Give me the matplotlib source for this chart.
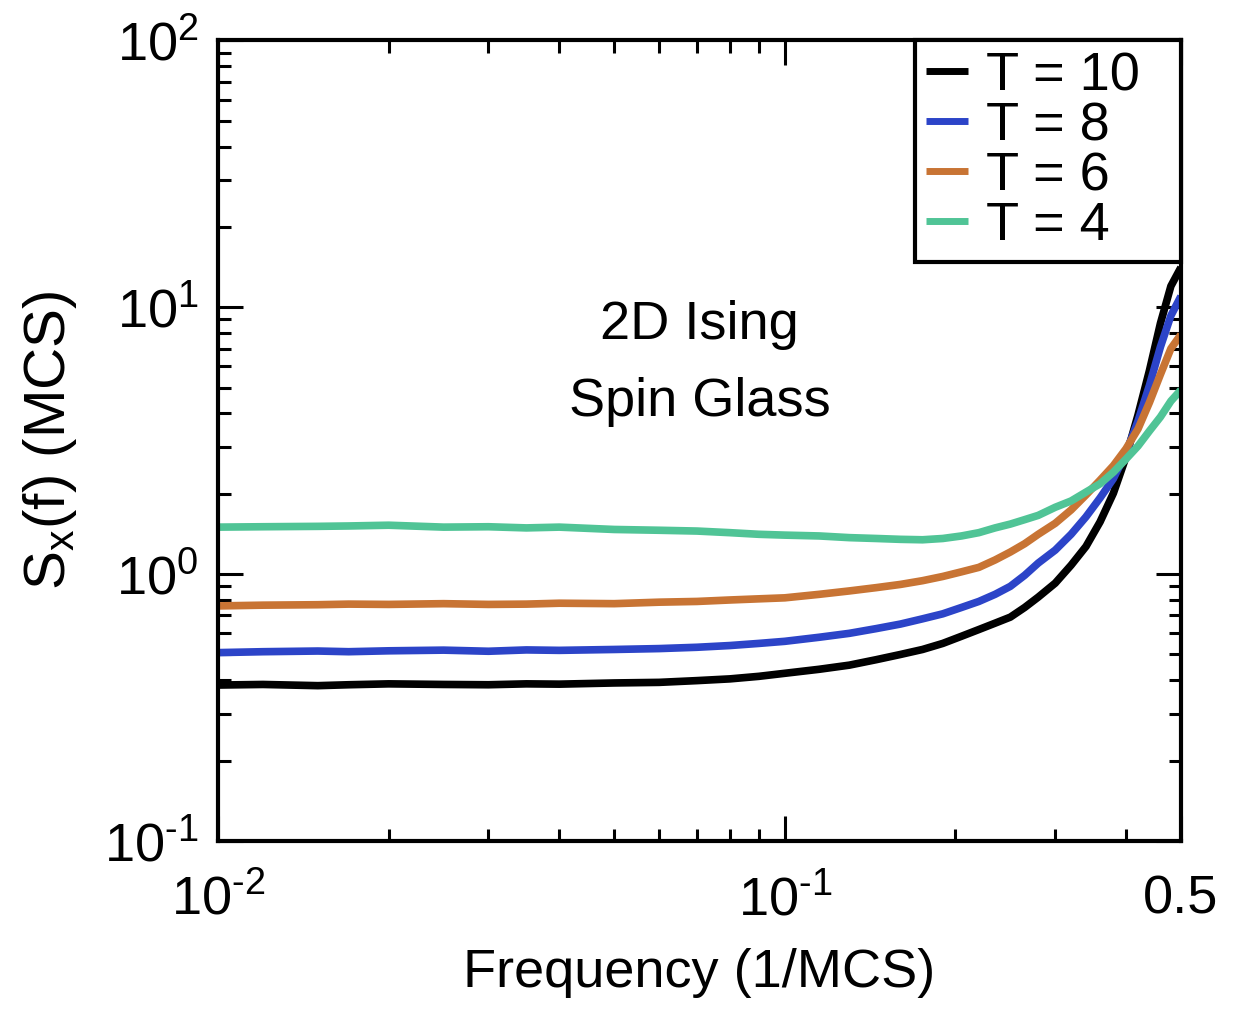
import numpy as np
import matplotlib
matplotlib.use("Agg")
import matplotlib.pyplot as plt
from matplotlib.ticker import LogLocator, NullFormatter

plt.rcParams['font.family'] = ['Liberation Sans', 'DejaVu Sans']
plt.rcParams['mathtext.fontset'] = 'custom'
plt.rcParams['mathtext.rm'] = 'Liberation Sans'
plt.rcParams['mathtext.it'] = 'Liberation Sans'

# frequency grid (1/MCS) and spectra
freq = [0.01, 0.012, 0.015, 0.017, 0.02, 0.025, 0.03, 0.035, 0.04, 0.05,
        0.06, 0.07, 0.08, 0.09, 0.1, 0.115, 0.13, 0.145, 0.16, 0.175,
        0.19, 0.205, 0.22, 0.235, 0.25, 0.265, 0.28, 0.30, 0.32, 0.34,
        0.36, 0.38, 0.40, 0.42, 0.44, 0.46, 0.48, 0.5]
s_T10 = [0.384, 0.386, 0.382, 0.385, 0.388, 0.386, 0.385, 0.388, 0.387, 0.391,
         0.393, 0.399, 0.405, 0.414, 0.425, 0.440, 0.456, 0.478, 0.50, 0.522,
         0.55, 0.585, 0.62, 0.655, 0.69, 0.75, 0.82, 0.925, 1.08, 1.27,
         1.57, 2.01, 2.75, 3.95, 5.8, 8.7, 12.0, 14.1]
s_T8 = [0.508, 0.512, 0.515, 0.512, 0.516, 0.519, 0.514, 0.52, 0.518, 0.522,
        0.526, 0.532, 0.54, 0.55, 0.56, 0.58, 0.60, 0.625, 0.65, 0.68,
        0.71, 0.75, 0.79, 0.84, 0.90, 0.99, 1.10, 1.23, 1.41, 1.64,
        1.93, 2.28, 2.85, 3.75, 5.1, 7.1, 9.3, 11.0]
s_T6 = [0.76, 0.765, 0.768, 0.772, 0.77, 0.775, 0.77, 0.772, 0.778, 0.775,
        0.785, 0.79, 0.80, 0.808, 0.815, 0.84, 0.865, 0.89, 0.915, 0.945,
        0.98, 1.02, 1.06, 1.13, 1.21, 1.30, 1.41, 1.55, 1.74, 1.98,
        2.25, 2.55, 2.95, 3.5, 4.4, 5.6, 7.0, 7.9]
s_T4 = [1.50, 1.505, 1.51, 1.515, 1.525, 1.50, 1.505, 1.49, 1.50, 1.47,
        1.46, 1.45, 1.43, 1.41, 1.40, 1.39, 1.37, 1.36, 1.35, 1.345,
        1.36, 1.39, 1.43, 1.49, 1.54, 1.60, 1.66, 1.78, 1.88, 2.03,
        2.18, 2.41, 2.70, 3.02, 3.44, 3.88, 4.45, 4.9]

series = [("T = 10", s_T10, "#000000"),
          ("T = 8", s_T8, "#2c44c8"),
          ("T = 6", s_T6, "#c87434"),
          ("T = 4", s_T4, "#50c496")]

fig = plt.figure(figsize=(12.34, 10.09), dpi=100)
ax = fig.add_axes([0.1767, 0.1665, 0.957 - 0.1767, 0.960 - 0.1665])

for label, vals, col in series:
    ax.plot(freq, vals, color=col, lw=5.5, label=label + '  ',
            solid_capstyle='butt', solid_joinstyle='round')

ax.set_xscale('log')
ax.set_yscale('log')
ax.set_xlim(0.01, 0.5)
ax.set_ylim(0.1, 100)

ax.set_xticks([0.01, 0.1, 0.5])
ax.set_xticklabels([r'$10^{\text{-}2}$', r'$10^{\text{-}1}$', '0.5'])
ax.xaxis.set_minor_locator(LogLocator(base=10, subs=np.arange(2, 10)))
ax.xaxis.set_minor_formatter(NullFormatter())
ax.set_yticks([0.1, 1, 10, 100])
ax.set_yticklabels([r'$10^{\text{-}1}$', r'$10^{0}$', r'$10^{1}$', r'$10^{2}$'])
ax.yaxis.set_minor_locator(LogLocator(base=10, subs=np.arange(2, 10)))
ax.yaxis.set_minor_formatter(NullFormatter())

ax.tick_params(which='both', direction='in', top=True, right=True, width=2.2)
ax.tick_params(which='major', length=18, labelsize=39)
ax.tick_params(axis='x', which='major', pad=24)
ax.tick_params(axis='y', which='major', pad=14)
ax.tick_params(which='minor', length=9)
for sp in ax.spines.values():
    sp.set_linewidth(3)

ax.set_xlabel('Frequency (1/MCS)', fontsize=39, labelpad=16)
ax.set_ylabel(r'S$_\mathregular{x}$(f) (MCS)', fontsize=42, labelpad=18)

ax.text(0.5, 0.644, '2D Ising', transform=ax.transAxes,
        ha='center', va='center', fontsize=39)
ax.text(0.5, 0.548, 'Spin Glass', transform=ax.transAxes,
        ha='center', va='center', fontsize=39)

leg = ax.legend(loc='upper right', fontsize=39, frameon=True, fancybox=False,
                framealpha=1, borderaxespad=0, handlelength=0.78,
                handletextpad=0.33, labelspacing=0.0, borderpad=0.2)
leg.get_frame().set_edgecolor('black')
leg.get_frame().set_linewidth(3)
for h in leg.get_lines():
    h.set_linewidth(5)

fig.savefig('out.png', dpi=100)
